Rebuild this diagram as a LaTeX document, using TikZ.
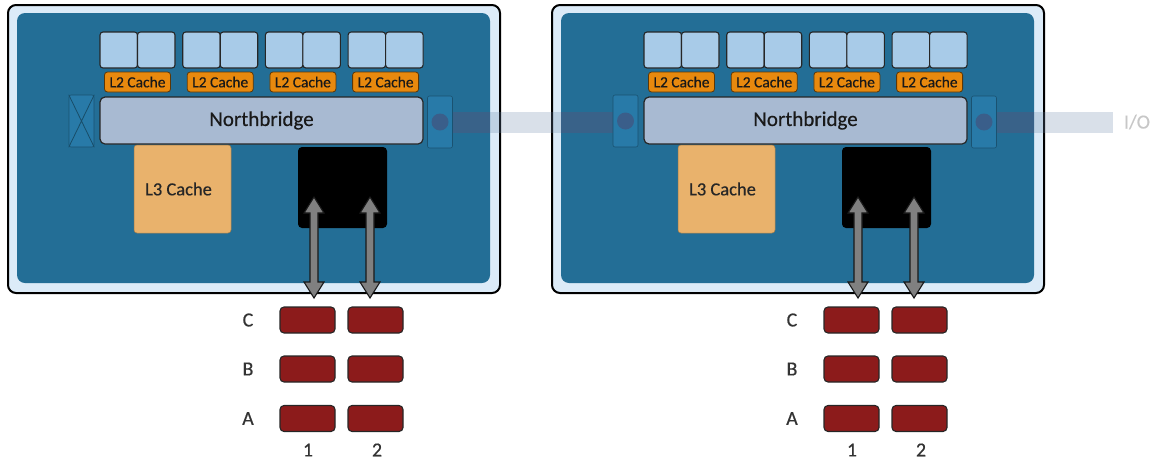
\documentclass[tikz,border=0pt]{standalone}
\usepackage{fontspec}
\setmainfont{Carlito}[FakeBold=0.4]
\usetikzlibrary{positioning,calc}

\definecolor{pkgblue}{RGB}{35,110,150}
\definecolor{pkgrim}{RGB}{220,235,248}
\definecolor{conblue}{RGB}{40,122,168}
\definecolor{coreblue}{RGB}{168,203,232}
\definecolor{ltorange}{RGB}{232,137,14}
\definecolor{nbgray}{RGB}{168,186,210}
\definecolor{ltan}{RGB}{233,178,108}
\definecolor{dimmred}{RGB}{140,27,27}
\definecolor{iolink}{RGB}{104,132,168}
\definecolor{iodark}{RGB}{70,60,100}
\definecolor{portblue}{RGB}{58,94,138}

\tikzset{
  core/.style={draw=black!85, line width=1.1pt, fill=coreblue, rounded corners=3pt,
    minimum width=37.5pt, minimum height=36pt, inner sep=0pt},
  ltwo/.style={draw=black!60!ltorange, line width=0.8pt, fill=ltorange, rounded corners=3pt,
    minimum width=66pt, minimum height=20pt, inner sep=0pt, text=black!90,
    font=\fontsize{15.5}{15.5}\selectfont},
  bridge/.style={draw=black!85, line width=1.2pt, fill=nbgray, rounded corners=5pt,
    minimum width=323pt, minimum height=47pt, font=\fontsize{21}{21}\selectfont, text=black!90},
  lthree/.style={draw=ltan!70!black, line width=0.5pt, fill=ltan, rounded corners=3pt,
    minimum width=97pt, minimum height=88pt,
    font=\fontsize{18.5}{18.5}\selectfont, text=black!85},
  memctl/.style={fill=black, rounded corners=4pt, minimum width=89pt, minimum height=81pt},
  conbox/.style={draw=pkgblue!75!black, line width=0.6pt, fill=conblue, rounded corners=2pt,
    minimum width=25pt, minimum height=52pt, inner sep=0pt},
  port/.style={circle, fill=portblue, minimum size=17pt, inner sep=0pt},
  dimm/.style={draw=black!85, line width=1.1pt, fill=dimmred, rounded corners=4pt,
    minimum width=55pt, minimum height=26pt, inner sep=0pt},
  memarrow/.style={draw=black!90, line width=1.1pt, fill=black!50, line join=miter},
  dimmlabel/.style={font=\fontsize{20}{20}\selectfont, text=black!80}
}

\begin{document}
\begin{tikzpicture}[x=1pt,y=-1pt]
  \useasboundingbox (0,0) rectangle (1159,461);
  %%%%%%%%%%%%%%%%%%%%%%%%%%%%%%%%%%%%%%%%%%
  %%% Two processor packages
  %%%%%%%%%%%%%%%%%%%%%%%%%%%%%%%%%%%%%%%%%%
  \foreach \p/\dx in {L/0,R/544} {
    \begin{scope}[xshift=\dx]
      % package frame
      \draw[line width=2pt, fill=pkgrim, rounded corners=8pt] (8,5) rectangle (500,293);
      \fill[pkgblue, rounded corners=8pt] (17,13) rectangle (490,283);
      \coordinate (inW\p) at (17,122);
      \coordinate (inE\p) at (490,122);
      % four cores, two per L2 cache
      \foreach \g in {0,...,3} {
        \node[core] (core\p\g a) at ({118.75+82.7*\g},50) {};
        \node[core] (core\p\g b) at ({156.25+82.7*\g},50) {};
        \node[ltwo] (ltwo\p\g) at ({137.5+82.7*\g},82) {L2 Cache};
      }
      \node[bridge] (nb\p) at (261.5,120.5) {Northbridge};
      \node[lthree] (lthree\p) at (182.5,189) {\hspace*{-8pt}L3 Cache};
      \node[memctl] (mc\p) at (342.5,187.5) {};
      % memory channels
      \foreach \r/\ry in {C/320,B/369,A/418.5} {
        \node[dimmlabel] (lab\p\r) at (248,\ry) {\r};
        \foreach \c/\cx in {1/307.5,2/375.5}
          \node[dimm] (dimm\p\r\c) at (\cx,\ry) {};
      }
      \node[dimmlabel] (col\p1) at (308,450) {1};
      \node[dimmlabel] (col\p2) at (377,450) {2};
      % arrows between controller and DIMMs
      \foreach \i/\ax in {1/314,2/370} {
        \coordinate (mt\p\i) at (\ax,197);
        \coordinate (mb\p\i) at (\ax,298);
        \draw[memarrow] (mt\p\i) -- ++(10,16) -- ++(-6,0) -- ($(mb\p\i)+(4,-16)$)
          -- ++(6,0) -- (mb\p\i) -- ++(-10,-16) -- ++(6,0)
          -- ($(mt\p\i)+(-4,16)$) -- ++(-6,0) -- cycle;
      }
    \end{scope}
  }
  %%%%%%%%%%%%%%%%%%%%%%%%%%%%%%%%%%%%%%%%%%
  %%% HyperTransport links and I/O
  %%%%%%%%%%%%%%%%%%%%%%%%%%%%%%%%%%%%%%%%%%
  \node[text=black!22, font=\fontsize{20}{20}\selectfont] (io) at (1137,122) {I/O};
  \coordinate (ioend) at (1113,122.5);
  % the links, darker where they cross the blue dies
  \fill[iolink, opacity=0.25] (440,112) rectangle (626,133);
  \fill[iolink, opacity=0.25] (984,112) rectangle (ioend |- 0,133);
  \fill[iodark, opacity=0.3] (440,112) rectangle (inEL |- 0,133);
  \fill[iodark, opacity=0.3] (inWR |- 0,112) rectangle (626,133);
  \fill[iodark, opacity=0.3] (984,112) rectangle (inER |- 0,133);
  % link boxes at the die edges
  \foreach \p/\dx in {L/0,R/544} {
    \begin{scope}[xshift=\dx]
      \node[conbox] (conE\p) at (440,122) {};
      \node[conbox] (conW\p) at (81.5,121) {};
    \end{scope}
  }
  % crossed-out link on the first package
  \draw[pkgblue!70!black, line width=0.8pt]
    (conWL.north west) -- (conWL.south east) (conWL.north east) -- (conWL.south west);
  \node[port] (portEL) at (conEL.center) {};
  \node[port] (portWR) at (conWR.center) {};
  \node[port] (portER) at (conER.center) {};
\end{tikzpicture}
\end{document}
